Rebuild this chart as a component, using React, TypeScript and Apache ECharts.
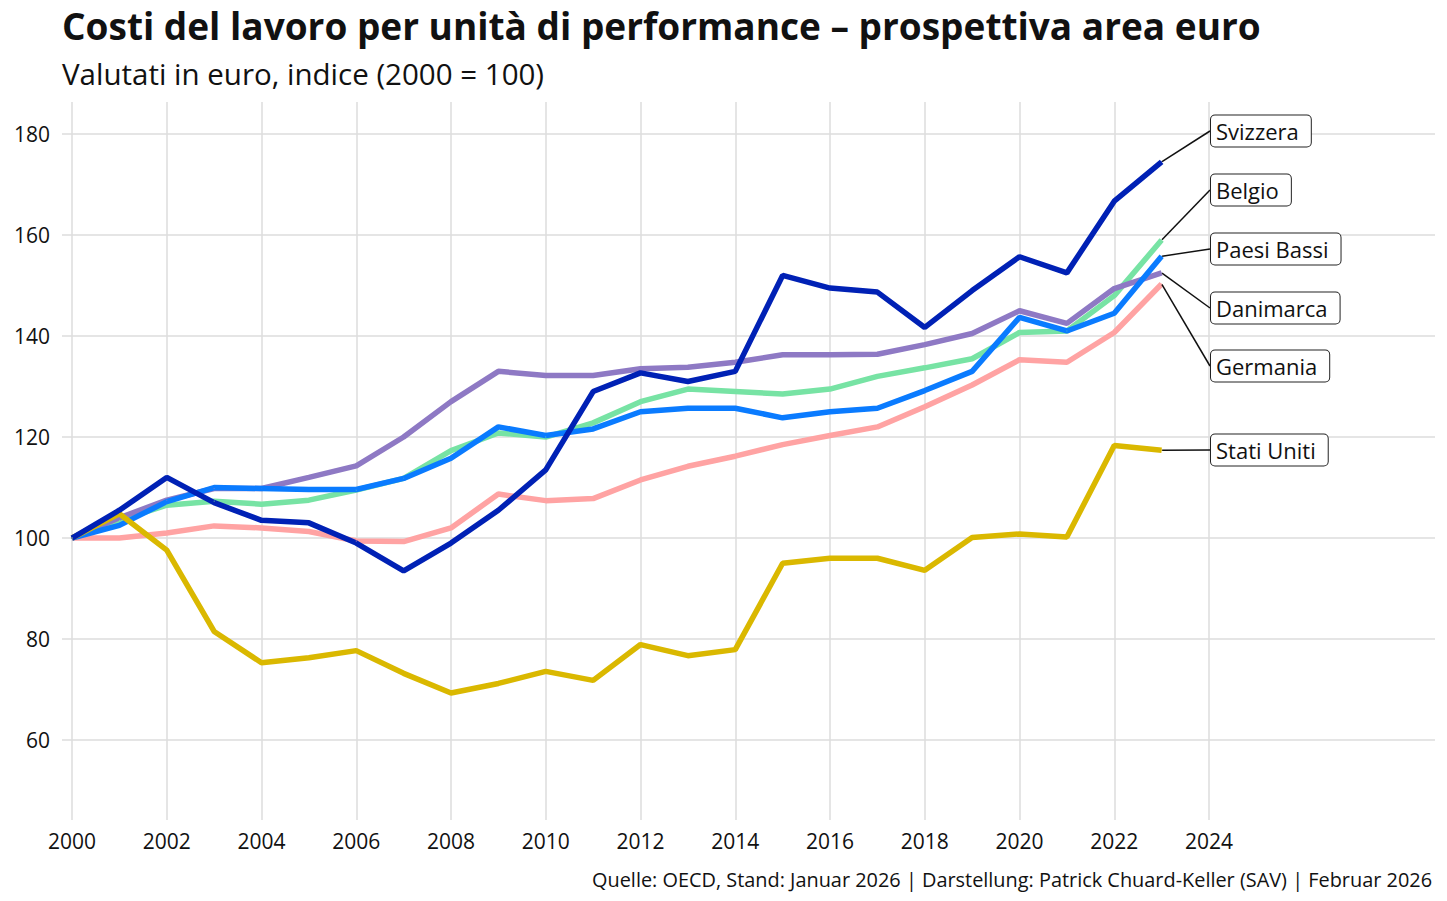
import { useEffect, useRef } from "react";
import * as echarts from "echarts";

const years = [
  2000, 2001, 2002, 2003, 2004, 2005, 2006, 2007, 2008, 2009, 2010, 2011,
  2012, 2013, 2014, 2015, 2016, 2017, 2018, 2019, 2020, 2021, 2022, 2023,
];

const svizzera = [
  100, 105.5, 112, 107, 103.5, 103, 99, 93.5, 99, 105.5, 113.5, 129,
  132.7, 131, 133, 152, 149.5, 148.7, 141.7, 149, 155.7, 152.5, 166.7, 174.5,
];
const belgio = [
  100, 103.5, 106.5, 107.3, 106.7, 107.5, 109.5, 111.8, 117.3, 120.8, 120, 122.8,
  127, 129.5, 129, 128.5, 129.5, 132, 133.7, 135.5, 140.7, 141, 148, 159,
];
const paesiBassi = [
  100, 102.5, 107.2, 110, 109.8, 109.6, 109.6, 111.8, 115.8, 122, 120.3, 121.6,
  125, 125.7, 125.7, 123.8, 125, 125.7, 129.2, 133, 143.7, 141, 144.5, 155.8,
];
const danimarca = [
  100, 104, 107.5, 109.8, 109.8, 112, 114.3, 120, 127, 133, 132.2, 132.2,
  133.5, 133.8, 134.8, 136.3, 136.3, 136.4, 138.3, 140.5, 145, 142.5, 149.4, 152.5,
];
const germania = [
  100, 100, 101, 102.4, 102, 101.3, 99.4, 99.3, 102, 108.7, 107.4, 107.8,
  111.5, 114.2, 116.2, 118.5, 120.3, 122, 126, 130.3, 135.3, 134.8, 140.7, 150.3,
];
const statiUniti = [
  100, 104.8, 97.6, 81.5, 75.3, 76.3, 77.7, 73.2, 69.3, 71.2, 73.6, 71.8,
  78.9, 76.7, 77.9, 95, 96, 96, 93.6, 100.1, 100.8, 100.2, 118.3, 117.4,
];

const FONT = "'Open Sans', Roboto, sans-serif";

// drawn bottom to top
const lines = [
  { name: "Germania", values: germania, color: "#ffa3a3", labelY: 366 },
  { name: "Belgio", values: belgio, color: "#77e3a4", labelY: 190 },
  { name: "Danimarca", values: danimarca, color: "#8e79c4", labelY: 308 },
  { name: "Paesi Bassi", values: paesiBassi, color: "#0a7bff", labelY: 249 },
  { name: "Stati Uniti", values: statiUniti, color: "#dab800", labelY: 450 },
  { name: "Svizzera", values: svizzera, color: "#0021b5", labelY: 131 },
];

const App = () => {
  const chartRef = useRef<HTMLDivElement>(null);

  useEffect(() => {
    document.body.style.margin = "0";
    if (!chartRef.current) return;
    const chart = echarts.init(chartRef.current, null, { renderer: "svg" });

    chart.setOption({
      animation: false,
      textStyle: { fontFamily: FONT },
      title: [
        {
          text: "Costi del lavoro per unità di performance – prospettiva area euro",
          left: 57,
          top: 2,
          textStyle: { fontSize: 37, fontWeight: "bold", color: "#111", fontFamily: FONT },
        },
        {
          text: "Valutati in euro, indice (2000 = 100)",
          left: 57,
          top: 53,
          textStyle: { fontSize: 29.5, fontWeight: "normal", color: "#111", fontFamily: FONT },
        },
        {
          text: "Quelle: OECD, Stand: Januar 2026 | Darstellung: Patrick Chuard-Keller (SAV) | Februar 2026",
          right: 10,
          top: 864,
          textStyle: { fontSize: 19.9, fontWeight: "normal", color: "#111", fontFamily: FONT },
        },
      ],
      grid: [
        { left: 62, right: 12, top: 134, bottom: 161 },
        { left: 72, right: 238, top: 102, bottom: 81 },
      ],
      xAxis: [
        { type: "value", gridIndex: 0, show: false, min: 0, max: 1 },
        {
          type: "value",
          gridIndex: 1,
          min: 2000,
          max: 2024,
          interval: 2,
          axisLine: { show: false },
          axisTick: { show: false },
          axisLabel: {
            fontSize: 21,
            color: "#111",
            margin: 10,
            fontFamily: FONT,
            formatter: (v: number) => String(v),
          },
          splitLine: { show: true, lineStyle: { color: "#dcdcdc", width: 1.5 } },
        },
      ],
      yAxis: [
        {
          type: "value",
          gridIndex: 0,
          min: 60,
          max: 180,
          interval: 20,
          axisLine: { show: false },
          axisTick: { show: false },
          axisLabel: { fontSize: 21, color: "#111", margin: 12, fontFamily: FONT },
          splitLine: { show: true, lineStyle: { color: "#dcdcdc", width: 1.5 } },
        },
        { type: "value", gridIndex: 1, show: false, min: 44.16, max: 186.34 },
      ],
      series: lines.map((s) => ({
        type: "line",
        name: s.name,
        xAxisIndex: 1,
        yAxisIndex: 1,
        z: 3,
        symbol: "circle",
        symbolSize: 1,
        showSymbol: true,
        color: s.color,
        lineStyle: { color: s.color, width: 5.5, cap: "butt" },
        itemStyle: { color: s.color },
        emphasis: { disabled: true },
        label: {
          show: false,
          formatter: "{a}",
          fontSize: 22,
          color: "#111",
          fontFamily: FONT,
          backgroundColor: "#fff",
          borderColor: "#222",
          borderWidth: 1,
          borderRadius: 4,
          padding: [5, 12, 4, 5],
        },
        labelLine: { show: true, lineStyle: { color: "#111", width: 1.5 } },
        labelLayout: () => ({
          x: 1211,
          y: s.labelY,
          align: "left",
          verticalAlign: "middle",
        }),
        data: years.map((y, i) =>
          i === years.length - 1
            ? { value: [y, s.values[i]], label: { show: true } }
            : [y, s.values[i]]
        ),
      })),
    });

    return () => {
      chart.dispose();
    };
  }, []);

  return <div ref={chartRef} style={{ width: "1447px", height: "901px" }}></div>;
};

export default App;
